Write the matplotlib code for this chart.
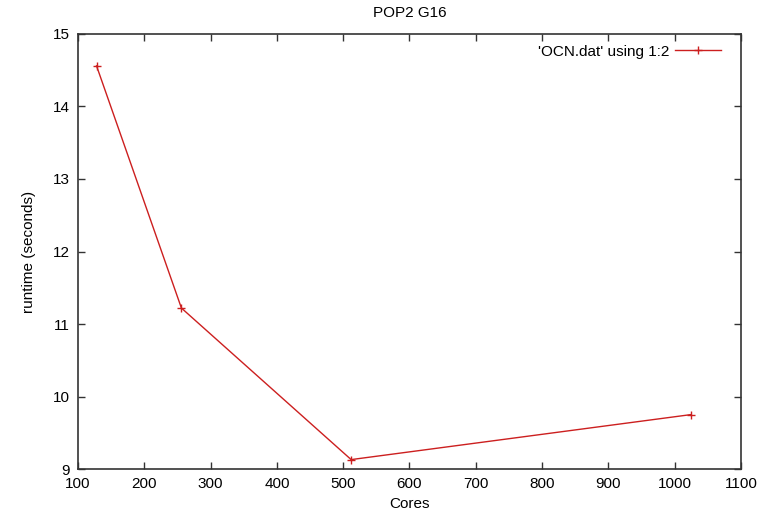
import matplotlib.pyplot as plt

plt.rcParams['font.family'] = ['Liberation Sans', 'DejaVu Sans']

# data
cores = [128, 256, 512, 1024]
runtime = [14.56, 11.22, 9.13, 9.75]
xticks = [100, 200, 300, 400, 500, 600, 700, 800, 900, 1000, 1100]
yticks = [9, 10, 11, 12, 13, 14, 15]

fig = plt.figure(figsize=(7.69, 5.14), dpi=100)
ax = fig.add_axes([0.1014, 0.0875, 0.8622, 0.8464])

ax.plot(cores, runtime, color='#cc1f1f', lw=1.0, marker='+', ms=6, mew=1.0,
        label="'OCN.dat' using 1:2")

ax.set_xlim(100, 1100)
ax.set_ylim(9, 15)
ax.set_xticks(xticks)
ax.set_yticks(yticks)
ax.tick_params(direction='in', top=True, right=True, length=5, width=1,
               color='#333333', labelsize=11, pad=6)
for s in ax.spines.values():
    s.set_color('#333333')
    s.set_linewidth(1.2)

ax.set_title('POP2 G16', fontsize=11, pad=12)
ax.set_xlabel('Cores', fontsize=11, labelpad=4)
ax.set_ylabel('runtime (seconds)', fontsize=11, labelpad=12)

ax.legend(loc='upper right', bbox_to_anchor=(0.986, 1.0), frameon=False,
          markerfirst=False, fontsize=11, handlelength=3.0,
          borderaxespad=0.3, handletextpad=0.35)

plt.savefig('out.png', dpi=100)
